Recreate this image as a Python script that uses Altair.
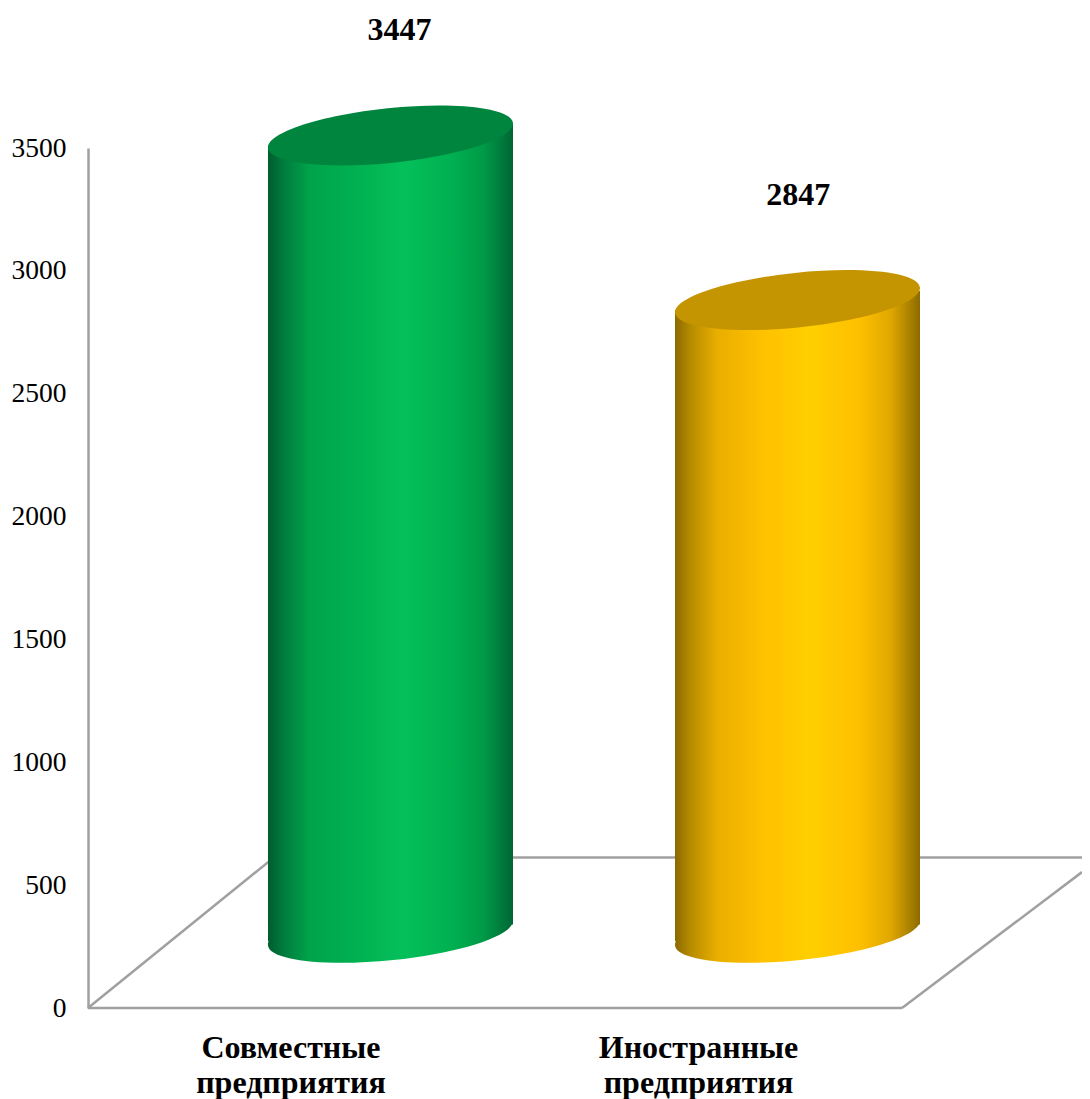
import altair as alt
import pandas as pd

categories = ["Совместные предприятия", "Иностранные предприятия"]
values = [3447, 2847]
ticks = [0, 500, 1000, 1500, 2000, 2500, 3000, 3500]

# Positions along the category axis and readings on the value axis
cat_pos = [0, 1]
half_width = 0.301
wall_top_left = [3500, 2840]
wall_top_right = [3598, 2918]
wall_base_left = [272, 272]
wall_base_right = [340, 340]
top_centre = [3551, 2881]
base_centre = [306, 306]
label_x = [0.022, 1.002]
label_y = [3981, 3308]
name_x = [-0.2445, 0.7568]
name_line1 = ["Совместные", "Иностранные"]
name_line2 = ["предприятия", "предприятия"]
name_y = [-162, -307]

floor_edge = ["left", "left", "back", "back", "front", "front", "right", "right"]
floor_x = [-0.7432, -0.2862, -0.2862, 1.699, -0.7432, 1.2568, 1.2568, 1.699]
floor_y = [0, 613, 613, 613, 0, 0, 0, 553]

body_colors = [
    [(0, "#005c2e"), (0.06, "#007a3c"), (0.17, "#00a34b"), (0.35, "#00b050"), (0.55, "#05c05a"),
     (0.75, "#00b050"), (0.88, "#009a48"), (1, "#006634")],
    [(0, "#8a6800"), (0.06, "#b58a00"), (0.17, "#e8ae00"), (0.35, "#ffc000"), (0.55, "#ffcf00"),
     (0.75, "#ffc000"), (0.88, "#e0a800"), (1, "#8c6c00")],
]
cap_colors = ["#00853f", "#c49500"]

XDOM = [-0.7432, 1.699]
YDOM = [0, 3500]
x_enc = alt.X("x:Q", scale=alt.Scale(domain=XDOM, nice=False, zero=False), axis=None)
y_enc = alt.Y(
    "y:Q",
    scale=alt.Scale(domain=YDOM, nice=False),
    axis=alt.Axis(
        values=ticks, title=None, grid=False, ticks=False, domain=True, domainColor="#a0a0a0",
        domainWidth=2.5, labelFont="Liberation Serif", labelFontSize=27.5, labelColor="#000000",
        labelPadding=22, labelFontWeight="normal", format="d",
    ),
)

ELLIPSE = ("M -0.9997 0.1031 A 1.005 0.2233 -5.89 1 1 0.9997 -0.1031 "
           "A 1.005 0.2233 -5.89 1 1 -0.9997 0.1031 Z")
ELLIPSE_SIZE = 60025


def gradient(stops):
    return alt.LinearGradient(
        gradient="linear", x1=0, x2=1, y1=0, y2=0,
        stops=[alt.GradientStop(offset=o, color=c) for o, c in stops],
    )


floor_df = pd.DataFrame({"edge": floor_edge, "x": floor_x, "y": floor_y, "n": range(len(floor_x))})
floor = alt.Chart(floor_df).mark_line(color="#a0a0a0", strokeWidth=2.5).encode(
    x=x_enc, y=y_enc, detail="edge:N", order="n:Q"
)

layers = [floor]
for i, _ in enumerate(categories):
    grad = gradient(body_colors[i])
    body_df = pd.DataFrame({
        "x": [cat_pos[i] - half_width, cat_pos[i] + half_width],
        "y": [wall_top_left[i], wall_top_right[i]],
        "y0": [wall_base_left[i], wall_base_right[i]],
    })
    body = alt.Chart(body_df).mark_area(color=grad, interpolate="linear").encode(
        x=x_enc, y=y_enc, y2=alt.Y2("y0:Q")
    )
    base = alt.Chart(pd.DataFrame({"x": [cat_pos[i]], "y": [base_centre[i]]})).mark_point(
        filled=True, fill=grad, shape=ELLIPSE, size=ELLIPSE_SIZE, opacity=1, strokeWidth=0
    ).encode(x=x_enc, y=y_enc)
    cap = alt.Chart(pd.DataFrame({"x": [cat_pos[i]], "y": [top_centre[i]]})).mark_point(
        filled=True, fill=cap_colors[i], shape=ELLIPSE, size=ELLIPSE_SIZE, opacity=1, strokeWidth=0
    ).encode(x=x_enc, y=y_enc)
    layers += [base, body, cap]

value_df = pd.DataFrame({"x": label_x, "y": label_y, "t": [str(v) for v in values]})
value_text = alt.Chart(value_df).mark_text(
    font="Liberation Serif", fontSize=32, fontWeight="bold", color="#000000", baseline="middle", align="center"
).encode(x=x_enc, y=y_enc, text="t:N")

name_df = pd.DataFrame({
    "x": name_x * 2,
    "y": [name_y[0]] * 2 + [name_y[1]] * 2,
    "t": name_line1 + name_line2,
})
name_text = alt.Chart(name_df).mark_text(
    font="Liberation Serif", fontSize=32, fontWeight="bold", color="#000000", baseline="middle", align="center"
).encode(x=x_enc, y=y_enc, text="t:N")

layers += [value_text, name_text]

chart = alt.layer(*layers).properties(
    width=994, height=860,
    autosize=alt.AutoSizeParams(type="none"),
    padding={"left": 80, "top": 140, "right": 0, "bottom": 91},
    background="#ffffff",
).configure_view(stroke=None)

chart.save("out.html", embed_options={"renderer": "svg", "actions": False})
